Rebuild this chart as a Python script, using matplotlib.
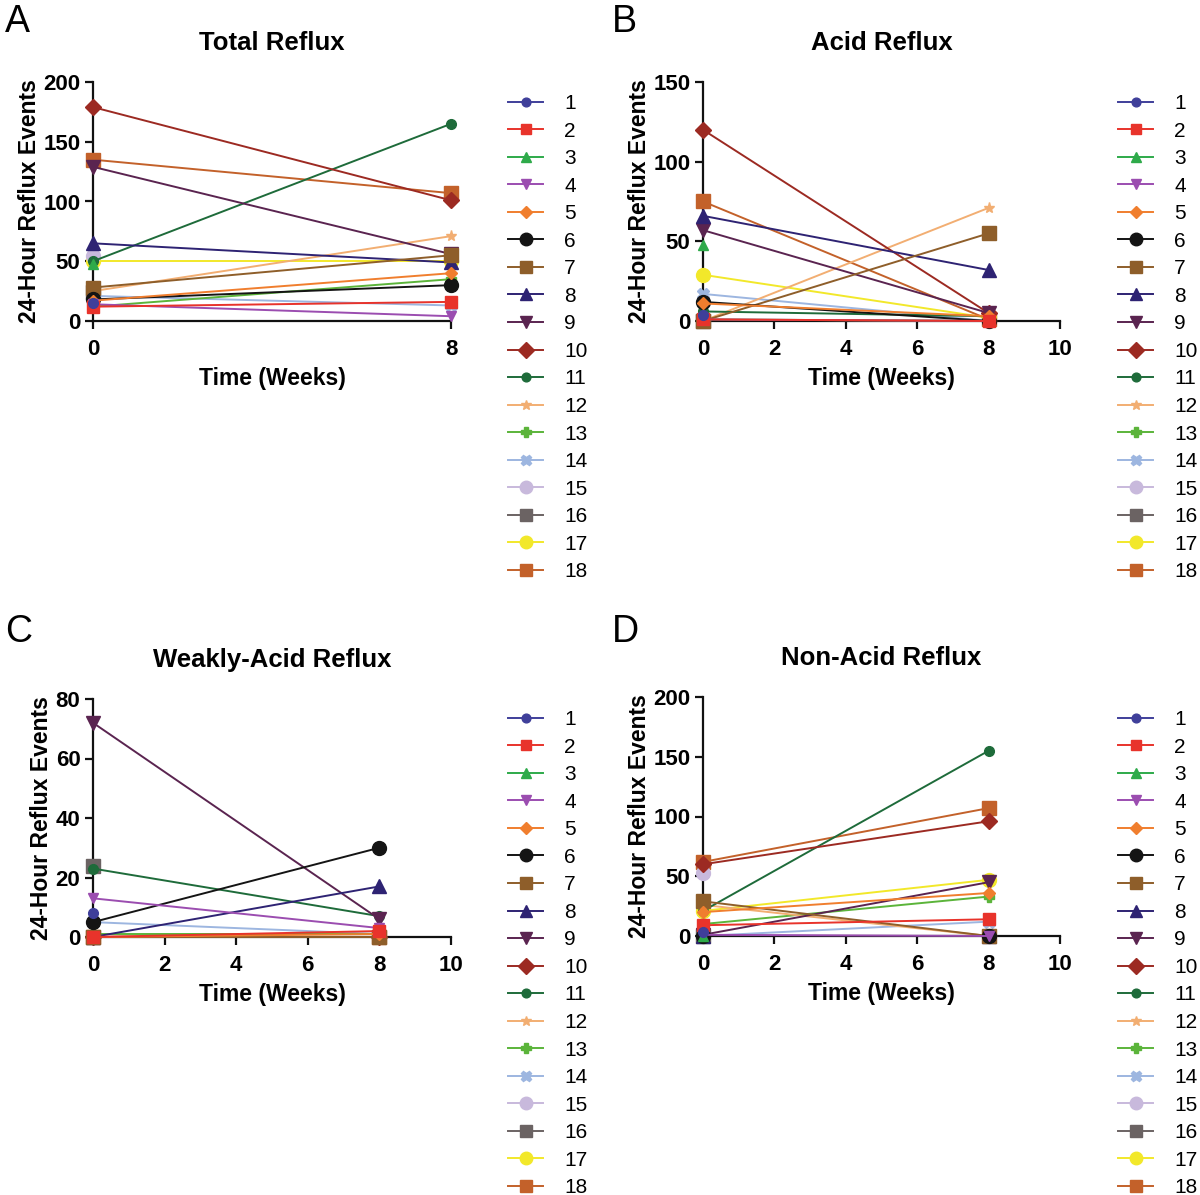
import numpy as np
import matplotlib
matplotlib.use("Agg")
import matplotlib.pyplot as plt

plt.rcParams['font.family'] = ['Liberation Sans', 'DejaVu Sans']

weeks = [0, 8]
patients = [str(i) for i in range(1, 19)]
nan = np.nan

# values per patient: [week 0, week 8]
total_reflux = [
    [15, nan], [12, 16], [48, nan], [14, 4], [17, 40], [18, 30],
    [28, 55], [65, 49], [129, 56], [179, 101], [50, 165], [25, 71],
    [12, 35], [21, 13], [54, nan], [24, nan], [50, 50], [135, 107],
]
acid_reflux = [
    [4, nan], [1, 0], [48, nan], [1, 0], [11, 3], [12, 0],
    [0, 55], [66, 32], [57, 5], [120, 5], [6, 3], [0, 71],
    [1, 0], [17, 0], [1, nan], [0, nan], [29, 2], [75, 1],
]
weak_reflux = [
    [8, nan], [0, 2], [0, nan], [13, 3], [0, 1], [5, 30],
    [0, 0], [0, 17], [72, 6], [0, 0], [23, 7], [0, 0],
    [1, 1], [5, 1], [0, nan], [24, nan], [0, 0], [0, 0],
]
nonacid_reflux = [
    [3, nan], [9, 14], [0, nan], [1, 0], [20, 36], [0, 0],
    [29, 0], [0, 0], [1, 45], [60, 96], [21, 155], [26, 0],
    [10, 33], [0, 12], [53, nan], [0, nan], [21, 47], [62, 107],
]

colors = ['#3F3F9A', '#E8332B', '#2EAA4A', '#9B4DB0', '#F07E2E', '#141414',
          '#8E5E2A', '#2E2373', '#5A2450', '#9C2A22', '#1E6B3A', '#F2AE72',
          '#5BB43A', '#9DB6E0', '#C8B9DC', '#6B6363', '#F2E82A', '#C3612A']
markers = ['o', 's', '^', 'v', 'D', 'o', 's', '^', 'v', 'D', 'o', '*',
           'P', 'X', 'o', 's', 'o', 's']
msizes = [7, 8, 7.5, 7.5, 6.5, 10, 10, 9.5, 10, 8.5, 7, 8, 7.5, 8.5, 10, 9.5, 10, 10]

fig = plt.figure(figsize=(12, 11.95), dpi=100)
W, H = 1200, 1195

def ax_rect(x0, x1, y0, y1):
    return [x0 / W, 1 - y1 / H, (x1 - x0) / W, (y1 - y0) / H]

panels = [
    ("A", "Total Reflux", total_reflux, ax_rect(93, 451, 82, 321), 200, 50, [0, 8], 8),
    ("B", "Acid Reflux", acid_reflux, ax_rect(703, 1060, 82, 321), 150, 50, [0, 2, 4, 6, 8, 10], 10),
    ("C", "Weakly-Acid Reflux", weak_reflux, ax_rect(93, 451, 699, 937), 80, 20, [0, 2, 4, 6, 8, 10], 10),
    ("D", "Non-Acid Reflux", nonacid_reflux, ax_rect(703, 1060, 697, 936), 200, 50, [0, 2, 4, 6, 8, 10], 10),
]

letter_pos = {'A': (5, 4), 'B': (612, 4), 'C': (5, 614), 'D': (612, 614)}
legend_pos = {'A': (508, 94), 'B': (1118, 94), 'C': (508, 710), 'D': (1118, 710)}

for letter, title, data, rect, ymax, ystep, xt, xmax in panels:
    ax = fig.add_axes(rect)
    handles = []
    for i in range(18):
        ys = data[i]
        h, = ax.plot(weeks, ys, color=colors[i], marker=markers[i], markersize=msizes[i],
                     markeredgecolor=colors[i], linewidth=1.4, clip_on=False,
                     zorder=3 - i * 0.01, label=patients[i])
        handles.append(h)
    ax.set_xlim(0, xmax)
    ax.set_ylim(0, ymax)
    ax.set_xticks(xt)
    ax.set_yticks(np.arange(0, ymax + 1, ystep))
    for s in ['top', 'right']:
        ax.spines[s].set_visible(False)
    for s in ['left', 'bottom']:
        ax.spines[s].set_linewidth(1.6)
        ax.spines[s].set_color('#111111')
    ax.tick_params(axis='both', width=1.6, length=6, labelsize=16, color='#111111')
    ax.tick_params(axis='y', pad=3)
    ax.tick_params(axis='x', pad=7)
    for lab in ax.get_xticklabels() + ax.get_yticklabels():
        lab.set_fontweight('bold')
    ax.set_title(title, fontsize=18.5, fontweight='bold', pad=23)
    ax.set_xlabel("Time (Weeks)", fontsize=16.5, fontweight='bold', labelpad=5)
    ax.set_ylabel("24-Hour Reflux Events", fontsize=16.5, fontweight='bold', labelpad=2)
    lx, ly = letter_pos[letter]
    fig.text(lx / W, 1 - ly / H, letter, fontsize=27, ha='left', va='top')
    gx, gy = legend_pos[letter]
    fig.legend(handles=handles, loc='upper left', bbox_to_anchor=(gx / W, 1 - gy / H),
               frameon=False, fontsize=15, handlelength=1.7, handletextpad=1.0,
               labelspacing=0.41, borderpad=0, borderaxespad=0, markerscale=0.9)

fig.savefig("out.png", dpi=100)
